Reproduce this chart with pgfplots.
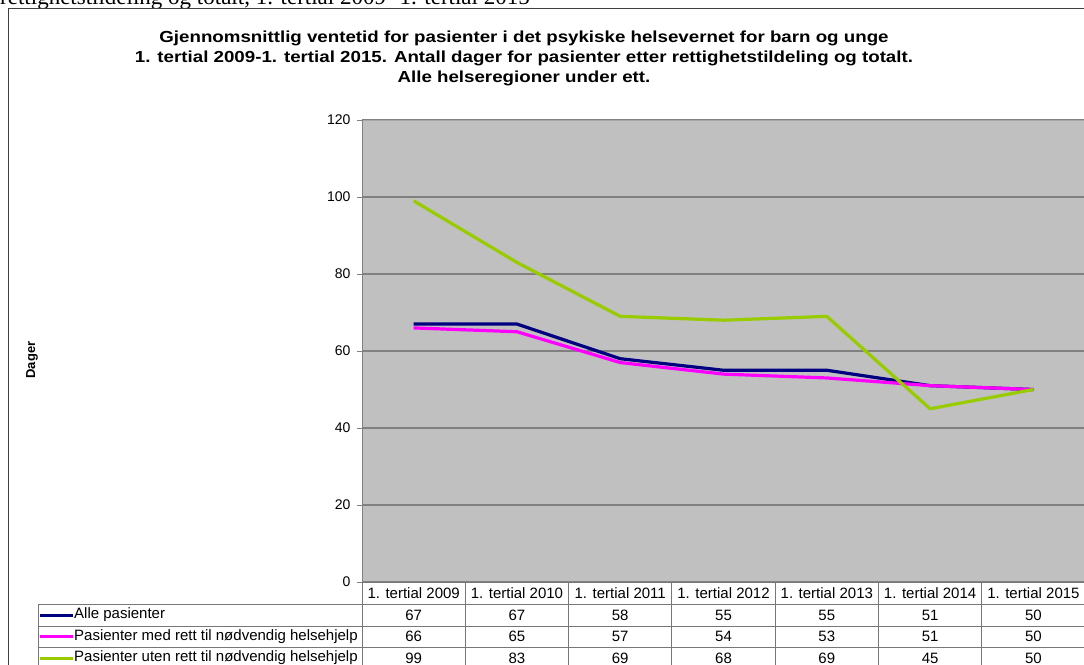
\documentclass[border=0pt]{standalone}
\usepackage{pgfplots}
\pgfplotsset{compat=1.18}
\usepackage{fontspec}
\setmainfont{Liberation Sans}
\newfontfamily\seriff{Liberation Serif}
\definecolor{plotbg}{HTML}{C0C0C0}
\definecolor{gridc}{HTML}{808080}
\definecolor{tabc}{HTML}{777777}
\definecolor{navyc}{HTML}{000080}
\definecolor{magc}{HTML}{FF00FF}
\definecolor{grnc}{HTML}{99CC00}
\newcommand{\tf}{\fontsize{15}{16}\selectfont}
\begin{document}
\begin{tikzpicture}[x=1pt,y=1pt]
\useasboundingbox (0,0) rectangle (1084,-664);
% cut-off caption above the chart
\node[anchor=base west, inner sep=0, font=\seriff\fontsize{23}{23}\selectfont] at (0,-4) {rettighetstildeling og totalt, 1. tertial 2009- 1. tertial 2015};
% chart frame
\draw[black!75, line width=0.9pt] (8,-700) -- (8,-8) -- (1100,-8);
% title
\node[align=center, inner sep=0, xscale=1.17, font=\bfseries\fontsize{16}{20}\selectfont] at (524,-58) {Gjennomsnittlig ventetid for pasienter i det psykiske helsevernet for barn og unge\\1. tertial 2009-1. tertial 2015. Antall dager for pasienter etter rettighetstildeling og totalt.\\Alle helseregioner under ett.};
% y label
\node[rotate=90, inner sep=0, font=\bfseries\fontsize{13}{14}\selectfont] at (32,-360) {Dager};
\begin{axis}[
  at={(362pt,-582pt)}, anchor=south west,
  scale only axis, width=723pt, height=462pt,
  xmin=-0.5, xmax=6.5, ymin=0, ymax=120,
  axis background/.style={fill=plotbg},
  axis line style={draw=none},
  xtick=\empty,
  ytick={0,20,...,120},
  ymajorgrids, grid style={color=gridc, line width=1.3pt},
  tick align=outside, major tick length=5pt,
  tick style={color=gridc, line width=0.9pt},
  yticklabel style={font=\fontsize{14}{16}\selectfont, xshift=-3pt},
  /pgf/number format/assume math mode=true,
  clip=false,
]
\addplot[navyc, line width=3.2pt, line join=round] coordinates {(0,67) (1,67) (2,58) (3,55) (4,55) (5,51) (6,50)};
\addplot[magc, line width=3.2pt, line join=round] coordinates {(0,66) (1,65) (2,57) (3,54) (4,53) (5,51) (6,50)};
\addplot[grnc, line width=3.2pt, line join=round] coordinates {(0,99) (1,83) (2,69) (3,68) (4,69) (5,45) (6,50)};
\end{axis}
% axis lines
\draw[gridc!70, line width=0.9pt] (362,-120) -- (1090,-120);
\draw[gridc, line width=1pt] (362,-120) -- (362,-582);
% data table
\begin{scope}[tabc, line width=0.9pt]
\draw (362,-582) -- (1090,-582);
\foreach \yy in {-604,-626,-647,-669} \draw (38,\yy) -- (1090,\yy);
\draw (38,-604) -- (38,-680);
\foreach \k in {0,...,7} \draw ({362+103.29*\k},-582) -- ({362+103.29*\k},-680);
\end{scope}
\foreach \lab [count=\i from 0] in {1. tertial 2009,1. tertial 2010,1. tertial 2011,1. tertial 2012,1. tertial 2013,1. tertial 2014,1. tertial 2015}
  \node[font=\tf, inner sep=0] at ({362+103.29*(\i+0.5)},-593) {\lab};
\foreach \v [count=\i from 0] in {67,67,58,55,55,51,50}
  \node[font=\tf, inner sep=0] at ({362+103.29*(\i+0.5)},-615) {\v};
\foreach \v [count=\i from 0] in {66,65,57,54,53,51,50}
  \node[font=\tf, inner sep=0] at ({362+103.29*(\i+0.5)},-636.5) {\v};
\foreach \v [count=\i from 0] in {99,83,69,68,69,45,50}
  \node[font=\tf, inner sep=0] at ({362+103.29*(\i+0.5)},-658) {\v};
\draw[navyc, line width=3pt] (40,-615) -- (73,-615);
\draw[magc, line width=3pt] (40,-636.5) -- (73,-636.5);
\draw[grnc, line width=3pt] (40,-658) -- (73,-658);
\node[font=\tf, inner sep=0, anchor=west] at (74,-615) {Alle pasienter};
\node[font=\tf, inner sep=0, anchor=west] at (74,-636.5) {Pasienter med rett til nødvendig helsehjelp};
\node[font=\tf, inner sep=0, anchor=west] at (74,-658) {Pasienter uten rett til nødvendig helsehjelp};
\end{tikzpicture}
\end{document}
